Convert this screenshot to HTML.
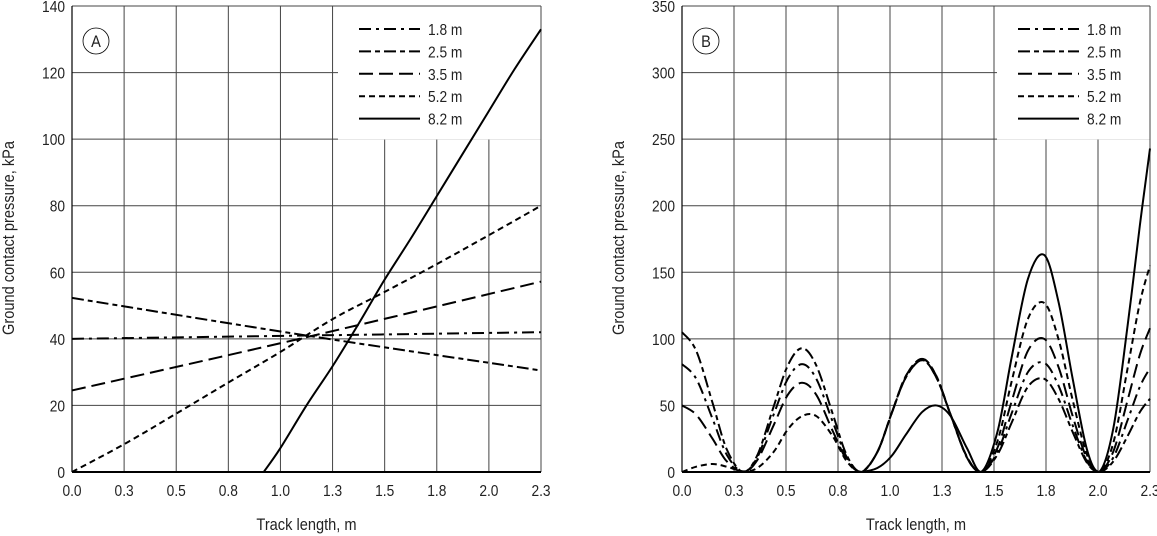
<!DOCTYPE html>
<html><head><meta charset="utf-8">
<style>
html,body{margin:0;padding:0;background:#fff;}
svg{display:block;font-family:"Liberation Sans",Arial,sans-serif;}
</style></head>
<body>
<svg id="chart" width="1157" height="536" viewBox="0 0 1157 536" xmlns="http://www.w3.org/2000/svg"></svg>
<script>
const seriesNames = ["1.8 m","2.5 m","3.5 m","5.2 m","8.2 m"];
const dashes = ["12 5 3 5","12 4 5 4","14 6","6 4",""];
const xTickLabels = ["0.0","0.3","0.5","0.8","1.0","1.3","1.5","1.8","2.0","2.3"];
const yTicksA = [0,20,40,60,80,100,120,140];
const yTicksB = [0,50,100,150,200,250,300,350];

// Panel A data (x in m, y in kPa)
const aX18 = [0,1.15,2.3]; const aY18 = [40,41,42];
const aX25 = [0,1.15,2.3]; const aY25 = [52.3,41,30.5];
const aX35 = [0,1.15,2.3]; const aY35 = [24.5,40.5,57.2];
const aX52 = [0,0.26,0.51,0.77,1.02,1.28,1.53,1.79,2.04,2.3];
const aY52 = [0,8.5,17.5,27,36,46,54,62.5,71,80];
const aX82 = [0.94,1.02,1.15,1.28,1.41,1.53,1.66,1.79,1.92,2.04,2.17,2.3];
const aY82 = [0,7,20,32,45,57.5,70,83,96,108,121,133];

// Panel B data
const bX = [0,0.07,0.15,0.22,0.3,0.37,0.45,0.52,0.59,0.66,0.74,0.81,0.88,0.96,1.03,1.1,1.18,1.25,1.32,1.4,1.47,1.55,1.62,1.7,1.78,1.85,1.92,1.99,2.05,2.12,2.19,2.25,2.3];
const bY18 = [81,70,40,13,0, 11,43,70,81,70,38,11,0, 15,44,71,84,71,43,11,0, 15,44,75,82,65,35,8,0, 11,39,64,78];
const bY25 = [105,91,52,17,0, 12.5,49,80,93,80,44,12.5,0, 15,44,71,84,71,43,11,0, 13,37,64,70,55,30,7,0, 8,27,45,55];
const bY35 = [50,43,25,8,0, 9,35,58,67,58,31,9,0, 15,44,72,85,72,43,11.5,0, 18,53,91,100,79,42,10,0, 15.5,54,88,108];
const bY52 = [0,4,6,4,0.5, 3,15,32,42,42,27,8,0, 15,44,72,85,72,43,11.5,0, 23,68,115,127,100,54,13,0, 22,78,127,155];
const bY82 = [0,0,0,0,0, 0,0,0,0,0,0,0,0, 3,12,28,45,50,42,18,0, 30,86,145,163,128,70,17,0, 33,110,185,243];

const NS="http://www.w3.org/2000/svg";
const svg=document.getElementById('chart');
function mk(tag,attrs,parent){const e=document.createElementNS(NS,tag);for(const k in attrs)e.setAttribute(k,attrs[k]);(parent||svg).appendChild(e);return e;}
function txt(x,y,s,size,anchor,parent,rot){
  const tr=`translate(${x} ${y})`+(rot?` rotate(${rot})`:'')+' scale(0.86 1)';
  const t=mk('text',{x:0,y:0,'font-size':size,'text-anchor':anchor,fill:'#222',transform:tr},parent);
  t.textContent=s;return t;
}

function panel(cfg){
  const g=mk('g',{});
  
  
  const L=cfg.left,R=cfg.right,T=6,B=472;
  const ymax=cfg.yTicks[cfg.yTicks.length-1];
  const sx=v=>L+v/2.3*(R-L);
  const sy=v=>B-v/ymax*(B-T);
  const grid=mk('g',{stroke:'#444','stroke-width':1},g);
  
  
  xTickLabels.forEach((lb,i)=>{const x=L+i*(R-L)/9;mk('line',{x1:x,x2:x,y1:T,y2:B},grid);});
  cfg.yTicks.forEach(v=>{mk('line',{x1:L,x2:R,y1:sy(v),y2:sy(v)},grid);});
  const lb=mk('rect',{x:cfg.legX-21,y:T+0.5,width:R-cfg.legX+21-0.5,height:133,fill:'#fff'},g);
  
  
  const ax=mk('line',{x1:L,x2:R,y1:B,y2:B,stroke:'#000','stroke-width':2},g);
  
  
  const ay=mk('line',{x1:L,x2:L,y1:T,y2:B,stroke:'#000','stroke-width':1.2},g);
  
  
  xTickLabels.forEach((lbt,i)=>{
    const x=L+i*(R-L)/9;
    const t=txt(x,B+24,lbt,16,'middle',g);
    
    
  });
  cfg.yTicks.forEach(v=>{
    const t=txt(L-7,sy(v)+6,String(v),16,'end',g);
    
    
  });
  const xt=txt((L+R)/2,530,'Track length, m',17,'middle',g);
  
  
  const yx=cfg.left-58;
  const yt=txt(yx,238,'Ground contact pressure, kPa',17,'middle',g,-90);
  
  
  cfg.series.forEach((s,i)=>{
    const pts=s[0].map((x,j)=>[sx(x),sy(s[1][j])]);
    let d='M'+pts[0][0]+','+pts[0][1];
    for(let j=0;j<pts.length-1;j++){
      const p0=pts[Math.max(0,j-1)],p1=pts[j],p2=pts[j+1],p3=pts[Math.min(pts.length-1,j+2)];
      const c1x=p1[0]+(p2[0]-p0[0])/6,c1y=p1[1]+(p2[1]-p0[1])/6;
      const c2x=p2[0]-(p3[0]-p1[0])/6,c2y=p2[1]-(p3[1]-p1[1])/6;
      d+=` C${c1x},${Math.min(B,c1y)} ${c2x},${Math.min(B,c2y)} ${p2[0]},${p2[1]}`;
    }
    const p=mk('path',{d:d,fill:'none',stroke:'#000','stroke-width':2,'stroke-dasharray':dashes[i]},g);
    
    
  });
  seriesNames.forEach((n,i)=>{
    const y=29+i*22.4;
    const le=mk('g',{},g);
    
    
    mk('line',{x1:cfg.legX,x2:cfg.legX+61,y1:y,y2:y,stroke:'#000','stroke-width':2,'stroke-dasharray':dashes[i]},le);
    txt(cfg.legX+69,y+6,n,16,'start',le);
  });
  const pl=mk('g',{},g);
  
  
  mk('circle',{cx:L+24,cy:41,r:13,fill:'#fff',stroke:'#000','stroke-width':0.8},pl);
  txt(L+24,47,cfg.label,17,'middle',pl);
}

panel({name:'panel-a',label:'A',left:72,right:541,yTicks:yTicksA,legX:359,
  series:[[aX18,aY18],[aX25,aY25],[aX35,aY35],[aX52,aY52],[aX82,aY82]]});
panel({name:'panel-b',label:'B',left:682,right:1150,yTicks:yTicksB,legX:1018,
  series:[[bX,bY18],[bX,bY25],[bX,bY35],[bX,bY52],[bX,bY82]]});
</script>
</body></html>
